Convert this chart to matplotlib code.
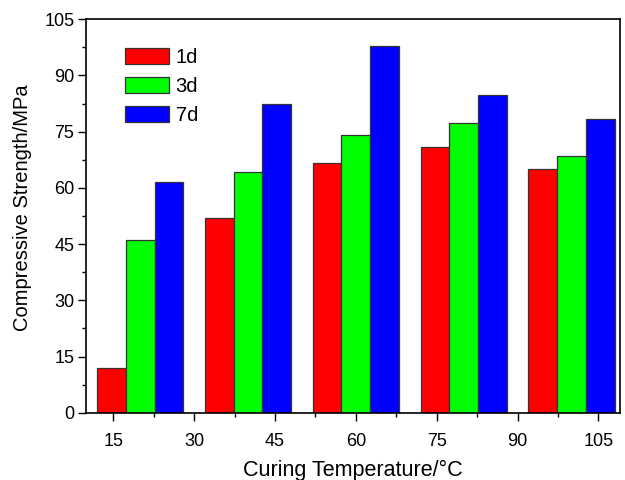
import matplotlib
matplotlib.use("Agg")
import matplotlib.pyplot as plt
import numpy as np
from matplotlib.ticker import MultipleLocator

# group centres on the temperature axis
positions = [20, 40, 60, 80, 100]
ages = ["1d", "3d", "7d"]
strength_1d = [12.0, 52.0, 66.7, 71.0, 65.0]
strength_3d = [46.0, 64.3, 74.1, 77.2, 68.6]
strength_7d = [61.6, 82.5, 97.9, 84.8, 78.4]
colors = ["#ff0000", "#00ff00", "#0000ff"]

plt.rcParams["font.family"] = "Liberation Sans"

fig = plt.figure(figsize=(6.25, 4.8), dpi=100)
ax = fig.add_axes([0.138, 0.14, 0.854, 0.82])

w = 16 / 3
x = np.array(positions, dtype=float)
for i, (vals, lab, c) in enumerate(zip([strength_1d, strength_3d, strength_7d], ages, colors)):
    ax.bar(x + (i - 1) * w, vals, width=w, color=c, edgecolor="#333333",
           linewidth=0.9, label=lab)

ax.set_xlim(10, 109)
ax.set_ylim(0, 105)
ax.xaxis.set_major_locator(MultipleLocator(15))
ax.xaxis.set_minor_locator(MultipleLocator(7.5))
ax.yaxis.set_major_locator(MultipleLocator(15))
ax.yaxis.set_minor_locator(MultipleLocator(7.5))
ax.tick_params(which="major", direction="out", length=5.5, width=1, labelsize=13)
ax.tick_params(axis="x", which="major", pad=9)
ax.tick_params(axis="y", which="major", pad=3)
ax.tick_params(which="minor", direction="out", length=3, width=1)
for s in ax.spines.values():
    s.set_linewidth(1.2)

ax.set_xlabel("Curing Temperature/\u00b0C", fontsize=15.5, labelpad=7)
ax.set_ylabel("Compressive Strength/MPa", fontsize=14.5)
ax.yaxis.set_label_coords(-0.101, 0.52)

ax.legend(loc="upper left", bbox_to_anchor=(0.073, 0.927), frameon=False,
          borderaxespad=0, borderpad=0,
          fontsize=14.5, handlelength=2.15, handleheight=0.8,
          handletextpad=0.35, labelspacing=0.5)

fig.savefig("out.png", dpi=100)
